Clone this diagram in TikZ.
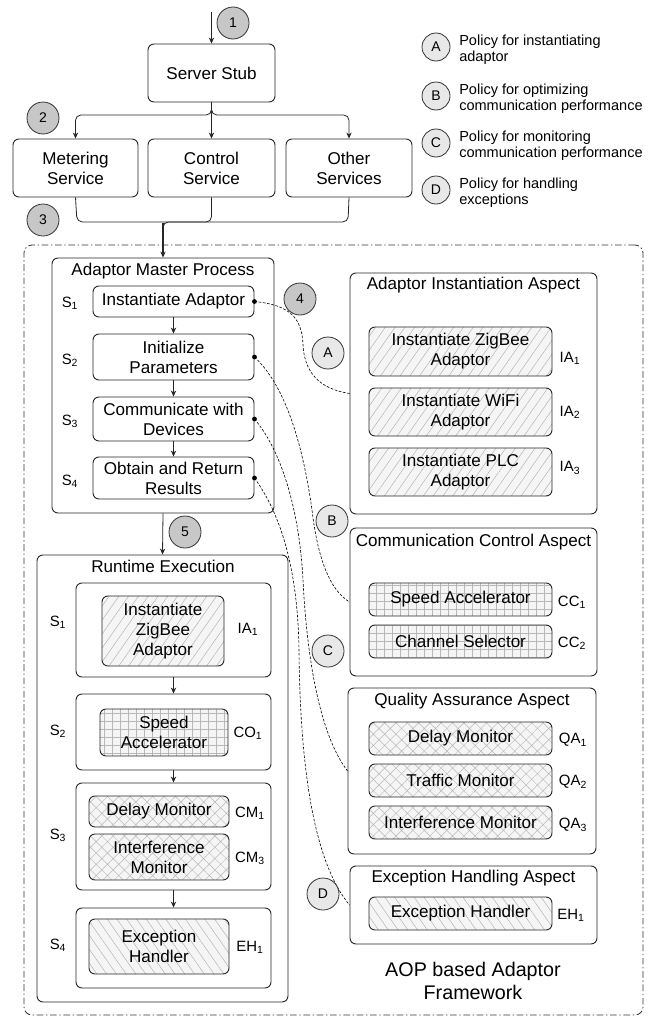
\documentclass[tikz,border=0pt]{standalone}
\usepackage{fontspec}
\setmainfont{Liberation Sans}
\usetikzlibrary{arrows.meta,patterns.meta}
\newcommand\rbox[7][]{\node[#1, minimum width={(#4-#2)*0.75pt}, minimum height={(#5-#3)*0.75pt}] (#6) at ({(#2+#4)/2},{(#3+#5)/2}) {#7};}
\newcommand\sub[1]{\textsubscript{#1}}
\begin{document}
\begin{tikzpicture}[x=0.75pt,y=-0.75pt,
  box/.style={draw=black!85, line width=0.7pt, rounded corners=4.5pt, align=center, inner sep=1pt, font=\fontsize{12.8}{15}\selectfont},
  ttl/.style={inner sep=0pt, font=\fontsize{12.8}{15}\selectfont},
  lab/.style={inner sep=0pt, font=\fontsize{11.2}{13}\selectfont},
  numc/.style={circle, draw=black!80, line width=0.6pt, fill=black!22, minimum size=24pt, inner sep=0pt, font=\fontsize{10.5}{12}\selectfont},
  letc/.style={circle, draw=black!80, line width=0.6pt, fill=black!9, minimum size=24pt, inner sep=0pt, font=\fontsize{10.5}{12}\selectfont},
  legc/.style={letc, minimum size=21pt},
  legt/.style={anchor=west, align=left, inner sep=0pt, font=\fontsize{10.9}{12}\selectfont},
  hatchA/.style={preaction={fill=black!4}, pattern={Lines[angle=55,distance=6pt,line width=0.35pt]}, pattern color=black!30},
  hatchD/.style={preaction={fill=black!4}, pattern={Lines[angle=-55,distance=6pt,line width=0.35pt]}, pattern color=black!30},
  gridp/.style={preaction={fill=black!4}, pattern={Hatch[angle=0,distance=6pt,line width=0.35pt]}, pattern color=black!28},
  crossp/.style={preaction={fill=black!4}, pattern={Hatch[angle=45,distance=6pt,line width=0.35pt]}, pattern color=black!28},
  arr/.style={-{Stealth[length=4.5pt,width=4pt]}, line width=0.6pt, draw=black!85},
  ln/.style={line width=0.6pt, draw=black!85},
  conn/.style={line width=0.45pt, dash pattern=on 2pt off 1.2pt},
  frame/.style={draw=black!80, line width=0.6pt, rounded corners=6pt, dash pattern=on 5pt off 2pt on 1pt off 2pt}
]
\useasboundingbox (0,0) rectangle (659,1017);

% ---------- top part ----------
\coordinate (top) at (211.5,12);
\rbox[box]{148}{44}{275}{102}{stub}{Server Stub}
\rbox[box]{13}{139}{138}{197}{meter}{Metering\\Service}
\rbox[box]{148}{139}{275}{197}{control}{Control\\Service}
\rbox[box]{286}{139}{412}{197}{other}{Other\\Services}

\node[numc] (n1) at (233,23) {1};
\node[numc] (n2) at (43,118) {2};
\node[numc] (n3) at (43,220) {3};

\draw[arr] (top) -- (stub.north);
\draw[arr] (stub.south) -- (control.north);
\draw[arr, rounded corners=4pt] (stub.south) -- (211.5,115) -| (meter.north);
\draw[arr, rounded corners=4pt] (stub.south) -- (211.5,115) -| (other.north);

% ---------- legend ----------
\node[legc] (la) at (436,47) {A};
\node[legt] (lta) at (459,50) {Policy for instantiating\\adaptor};
\node[legc] (lb) at (436,96) {B};
\node[legt] (ltb) at (459,99) {Policy for optimizing\\communication performance};
\node[legc] (lc) at (436,143) {C};
\node[legt] (ltc) at (459,146) {Policy for monitoring\\communication performance};
\node[legc] (ld) at (436,190) {D};
\node[legt] (ltd) at (459,193) {Policy for handling\\exceptions};

% ---------- framework frame ----------
\rbox[frame]{24}{245}{643}{1015}{fw}{}

% ---------- Adaptor master process ----------
\rbox[box]{52}{258}{274}{513}{amp}{}
\node[ttl] (ampt) at (163,271) {Adaptor Master Process};
\rbox[box]{93}{286}{254}{317}{ia}{Instantiate Adaptor}
\rbox[box]{93}{334}{254}{380}{ip}{Initialize\\Parameters}
\rbox[box]{93}{397}{254}{441}{cd}{Communicate with\\Devices}
\rbox[box]{93}{457}{254}{499}{orr}{Obtain and Return\\Results}
\node[lab] (ms1) at (70,303) {S\sub{1}};
\node[lab] (ms2) at (70,360) {S\sub{2}};
\node[lab] (ms3) at (70,421) {S\sub{3}};
\node[lab] (ms4) at (70,481) {S\sub{4}};
\draw[arr] (ia.south) -- (ip.north);
\draw[arr] (ip.south) -- (cd.north);
\draw[arr] (cd.south) -- (orr.north);

% merge into master process
\coordinate (merge) at (163,223);
\draw[ln, rounded corners=4pt] (meter.south) -- (77,222) -- (211.5,222) -- (control.south);
\draw[ln, rounded corners=4pt] (other.south) -- (348,222) -- (163,222) -- (163,235);
\draw[arr, line width=1.3pt] (merge) -- (amp.north);

\node[numc] (n4) at (300,299) {4};
\node[numc] (n5) at (185,532) {5};

% ---------- Runtime execution ----------
\rbox[box]{37}{555}{288}{1002}{re}{}
\node[ttl] (ret) at (163,566) {Runtime Execution};
\draw[arr] (amp.south) -- (re.north);

\rbox[box]{76}{583}{271}{677}{r1}{}
\rbox[box]{76}{694}{271}{770}{r2}{}
\rbox[box]{76}{783}{271}{890}{r3}{}
\rbox[box]{76}{908}{271}{988}{r4}{}
\draw[arr] (r1.south) -- (r2.north);
\draw[arr] (r2.south) -- (r3.north);
\draw[arr] (r3.south) -- (r4.north);
\node[lab] (rs1) at (58,622) {S\sub{1}};
\node[lab] (rs2) at (58,731) {S\sub{2}};
\node[lab] (rs3) at (58,835) {S\sub{3}};
\node[lab] (rs4) at (58,945) {S\sub{4}};

\rbox[box,hatchA]{102}{596}{224}{666}{rz}{Instantiate\\ZigBee\\Adaptor}
\rbox[box,gridp]{100}{709}{228}{756}{rsa}{Speed\\Accelerator}
\rbox[box,crossp]{89}{796}{229}{827}{rdm}{Delay Monitor}
\rbox[box,crossp]{89}{834}{229}{880}{rim}{Interference\\Monitor}
\rbox[box,hatchD]{89}{919}{229}{974}{reh}{Exception\\Handler}
\node[lab] (lrz) at (248,629) {IA\sub{1}};
\node[lab] (lrsa) at (248,733) {CO\sub{1}};
\node[lab] (lrdm) at (250,813) {CM\sub{1}};
\node[lab] (lrim) at (250,858) {CM\sub{3}};
\node[lab] (lreh) at (250,947) {EH\sub{1}};

% ---------- Adaptor instantiation aspect ----------
\rbox[box]{350}{273}{597}{514}{aia}{}
\node[ttl] (aiat) at (473.5,285) {Adaptor Instantiation Aspect};
\rbox[box,hatchA]{369}{327}{552}{376}{z1}{Instantiate ZigBee\\Adaptor}
\rbox[box,hatchA]{369}{388}{552}{436}{z2}{Instantiate WiFi\\Adaptor}
\rbox[box,hatchA]{369}{448}{552}{496}{z3}{Instantiate PLC\\Adaptor}
\node[lab] (lz1) at (570,358) {IA\sub{1}};
\node[lab] (lz2) at (570,412) {IA\sub{2}};
\node[lab] (lz3) at (570,468) {IA\sub{3}};

% ---------- Communication control aspect ----------
\rbox[box]{350}{528}{597}{676}{cca}{}
\node[ttl] (ccat) at (473.5,542) {Communication Control Aspect};
\rbox[box,gridp]{369}{583}{552}{616}{cc1}{Speed Accelerator}
\rbox[box,gridp]{369}{625}{552}{658}{cc2}{Channel Selector}
\node[lab] (lcc1) at (572,602) {CC\sub{1}};
\node[lab] (lcc2) at (572,643) {CC\sub{2}};

% ---------- Quality assurance aspect ----------
\rbox[box]{348}{688}{596}{854}{qaa}{}
\node[ttl] (qaat) at (472,701) {Quality Assurance Aspect};
\rbox[box,crossp]{369}{722}{552}{755}{q1}{Delay Monitor}
\rbox[box,crossp]{369}{764}{552}{797}{q2}{Traffic Monitor}
\rbox[box,crossp]{369}{806}{552}{839}{q3}{Interference Monitor}
\node[lab] (lq1) at (573,740) {QA\sub{1}};
\node[lab] (lq2) at (573,782) {QA\sub{2}};
\node[lab] (lq3) at (573,825) {QA\sub{3}};

% ---------- Exception handling aspect ----------
\rbox[box]{350}{866}{597}{944}{eha}{}
\node[ttl] (ehat) at (473.5,878) {Exception Handling Aspect};
\rbox[box,hatchD]{369}{897}{552}{930}{eh}{Exception Handler}
\node[lab] (leh) at (571,915) {EH\sub{1}};

\node[align=center, inner sep=0pt, font=\fontsize{14.8}{17}\selectfont] (aop) at (473,981) {AOP based Adaptor\\Framework};

% ---------- policy connectors ----------
\draw[conn] (ia.east) .. controls (290,305) and (302,318) .. (303,345) .. controls (305,380) and (328,390) .. (aia.west);
\draw[conn] (ip.east) .. controls (290,390) and (305,460) .. (312,510) .. controls (318,560) and (330,590) .. (cca.west);
\draw[conn] (cd.east) .. controls (285,455) and (300,520) .. (303,580) .. controls (307,660) and (320,735) .. (qaa.west);
\draw[conn] (orr.east) .. controls (285,520) and (298,580) .. (299,650) .. controls (300,760) and (312,860) .. (eha.west);
\fill[black] (ia.east) circle (1.8pt);
\fill[black] (ip.east) circle (1.8pt);
\fill[black] (cd.east) circle (1.8pt);
\fill[black] (orr.east) circle (1.8pt);

\node[letc] (ca) at (328,353) {A};
\node[letc] (cb) at (332,521) {B};
\node[letc] (cc) at (328,651) {C};
\node[letc] (cdd) at (323,894) {D};
\end{tikzpicture}
\end{document}
